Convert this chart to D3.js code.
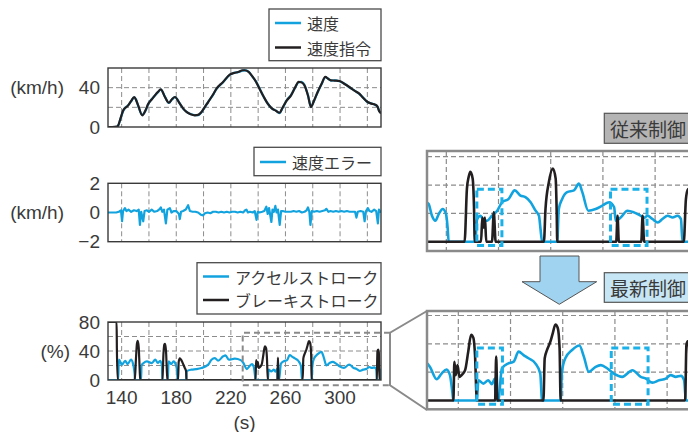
<!DOCTYPE html>
<html>
<head>
<meta charset="utf-8">
<script src="https://cdn.jsdelivr.net/npm/d3@7"></script>
<style>
  body { margin: 0; background: #fff; }
  text { fill: #3a3a3a; }
  .num { font-family: "Liberation Sans", Arial, sans-serif; font-size: 19px; }
  .jp { font-family: "Noto Sans CJK JP", sans-serif; font-size: 16px; }
</style>
</head>
<body>
<svg id="chart" width="688" height="432"></svg>
<script>
// speed command / speed (km/h)
const spdT = [130, 133, 136.5, 137.5, 139, 141.2, 144.8, 147, 149.2, 150.7, 152.1, 155.1, 157.5, 159.5, 162, 164.4, 166.5, 168.7, 171.7, 174.6, 177, 179, 182.6, 185, 187.5, 190.5, 193.6, 196, 198.5, 201, 203.4, 206.5, 209.5, 214.3, 219.2, 222.5, 225.3, 228.7, 230.2, 233, 235.5, 238.5, 241, 244, 247, 250, 253, 255.6, 258, 261, 264.1, 267, 269.7, 271.5, 273.9, 276.5, 278.7, 281, 283.6, 286.5, 289.2, 291.3, 293.3, 296, 299.5, 303, 306.8, 310.5, 314.1, 317, 320.2, 323, 325.8, 327.5, 328.7, 330];
const cmdV = [0, 0, 0.3, 1.7, 8, 17, 22, 26.5, 30.5, 27, 22, 11.9, 17, 23.7, 28, 32.2, 35.5, 38.3, 30.5, 24.7, 28.5, 30.5, 23.7, 19, 15.3, 13, 11.9, 12.3, 15.3, 20.5, 25.4, 32, 39, 45.8, 53.2, 55, 55.9, 57.7, 57.7, 56, 52, 45.8, 39, 31, 23.7, 19, 16.5, 14.5, 20, 27, 32.2, 40, 45.8, 45.5, 42.4, 32, 20.3, 27, 35.6, 44, 50.9, 49, 47.5, 47.2, 46.8, 44, 40.7, 37, 33.9, 29.5, 25.4, 23.8, 22.7, 20.5, 16, 14];
const actV = [0, 0, 0.2, 1.5, 7.5, 16.5, 22.3, 26.2, 30.2, 27.4, 21.6, 12.3, 16.6, 23.4, 28.3, 32, 35.2, 38, 30.9, 24.4, 28.2, 30.3, 24, 18.7, 15.5, 13.2, 12.1, 12.1, 15, 20.2, 25.6, 31.7, 38.7, 45.6, 52.9, 55.2, 55.7, 57.4, 57.5, 56.3, 51.7, 46.1, 39.3, 30.7, 23.9, 18.8, 16.7, 14.2, 19.6, 27.3, 32.5, 39.7, 45.5, 45.8, 42.7, 32.4, 20.6, 26.6, 35.3, 43.7, 50.6, 49.2, 47.2, 47.4, 46.5, 44.3, 40.4, 37.2, 33.6, 29.8, 25.1, 24, 22.4, 20.8, 16.3, 14.3];

// speed error (km/h)
const errT = [130, 132, 134, 136, 138, 139.5, 140.3, 141, 142.4, 143.5, 145, 147, 149, 151, 152.5, 153.4, 154.3, 155.8, 156.8, 158.5, 160, 162, 164, 166, 168, 168.7, 169.8, 171, 172.4, 173.5, 175.3, 176.5, 178, 180, 182, 182.6, 183.5, 185, 187, 188.7, 190, 192, 194, 196, 198, 199.7, 201, 203, 205, 207, 209, 211, 213, 215, 217, 219, 221, 223, 225, 227, 229, 230.5, 231.4, 232.5, 234, 236, 237.5, 238.8, 239.8, 241, 243, 244.5, 246, 247, 248, 249.7, 250.5, 251.5, 252.6, 253.5, 254.5, 255.8, 256.8, 258, 260, 262, 264, 266, 268, 270, 272, 274, 275.5, 276.5, 277.5, 278.3, 279.3, 281, 283, 285, 287, 289, 290, 291.5, 293, 295, 297, 299, 301, 303, 305, 307, 309, 311, 312, 313, 315, 317, 318, 319, 320.4, 321.5, 323, 325, 326.5, 327.7, 328.5, 329.5, 330];
const errV = [0, 0, 0, 0, 0.05, 0.15, -0.6, 0.1, 0.3, 0.1, 0.2, 0.05, 0.15, 0.1, 0.2, -0.85, 0.05, -0.6, 0.1, 0.15, 0.05, 0.2, 0.05, 0.1, 0.25, 0.35, 0.05, 0.2, -0.75, 0.2, 0.3, 0, 0.1, 0.1, -0.1, -0.45, 0.05, 0.1, 0.2, 0.5, 0.1, 0.05, 0.05, 0, -0.15, -0.2, -0.05, 0, -0.05, 0.05, 0.05, 0, 0.05, 0, 0.05, 0, 0.05, 0.05, 0, 0.05, 0, 0.15, 0.2, 0, 0.05, 0, 0.1, -0.5, 0.05, 0, 0.05, 0.1, 0.4, -0.1, 0.3, -0.65, 0.2, 0.05, 0.45, 0, 0.2, -0.85, 0.1, 0.1, 0.05, 0.05, 0.05, 0.1, 0.05, 0.1, 0, 0.05, 0.15, 0.35, 0.05, -0.85, 0.1, 0.05, 0.1, 0.05, 0.1, 0.15, 0.25, 0.05, 0.1, 0.05, 0.1, 0.05, 0.1, 0.05, 0.1, 0.05, 0.05, 0.05, -0.35, 0.05, 0.1, 0.05, -0.6, 0.1, 0.3, 0.1, 0.05, 0.2, 0.1, -0.75, 0.2, 0.05, 0.1];

// accelerator / brake stroke (%), latest control
const accT = [130, 137.4, 138, 140.2, 142.6, 144.4, 146.8, 148.5, 149.5, 149.8, 154.2, 154.6, 156.1, 158.5, 162.1, 164.6, 166.5, 168.2, 169.5, 169.9, 173.8, 174.4, 176.3, 178, 179.7, 180.6, 180.9, 187.4, 187.6, 191.2, 194.5, 198.5, 203.4, 205.8, 208.3, 210.7, 214.4, 216.1, 218.5, 222.9, 227.2, 229.1, 231.7, 233.6, 235.5, 236.8, 237.7, 238.1, 247.1, 247.7, 249.6, 251.5, 252.8, 254, 254.3, 255.3, 256.7, 259.2, 261.2, 263.1, 265, 266.9, 269.5, 271.4, 272.1, 279.2, 279.7, 281, 283.6, 286.4, 288.1, 290, 292.6, 294.6, 297.1, 299.6, 302.8, 306.7, 309.9, 311.8, 314.4, 316.9, 319.5, 321.4, 323.3, 325.3, 326.5, 327.2, 329.2, 329.6, 330];
const accV = [0, 0, 28, 21, 26.5, 22, 28, 21, 8, 0, 0, 20, 23.4, 25.7, 23.4, 28, 23.5, 26.5, 20, 0, 0, 25.7, 22, 25.7, 21, 12, 0, 0, 12, 14.3, 15, 16.6, 21.2, 28, 30.3, 26.7, 32.7, 34, 28, 29.4, 27.4, 23.8, 15, 19, 21.9, 17.9, 6, 0, 0, 14.3, 11.9, 14.3, 11.5, 15.5, 0, 0, 22.6, 26.2, 27.4, 34.5, 32, 29.8, 26.2, 19, 0, 0, 20.2, 29.8, 35.7, 38.8, 31, 20.2, 23.8, 25, 22.6, 19, 16.7, 21.4, 16.7, 15.5, 12.6, 14.3, 15.5, 17.9, 16.7, 17.4, 14.3, 0, 0, 14, 15];
const brkT = [130, 136.3, 136.5, 137.1, 149.6, 150.5, 151.2, 151.8, 152.5, 153.2, 153.6, 169.9, 170.6, 171.3, 171.8, 172.5, 173.2, 173.6, 181.3, 181.8, 182.6, 183.8, 185.3, 186.3, 187.2, 187.5, 238.1, 238.5, 239, 239.7, 240.4, 241.3, 242.6, 243.8, 244.9, 245.8, 246.4, 247.1, 254.1, 254.5, 255, 272.6, 273.1, 274, 275.3, 276.2, 277.2, 278.1, 278.8, 279.2, 326.9, 327.4, 327.9, 328.4, 328.9, 330];
const brkV = [80, 80, 44, 0, 0, 30, 50, 54, 45, 15, 0, 0, 35, 49, 50, 40, 10, 0, 0, 25, 30, 27, 21, 16.5, 12, 0, 0, 27.4, 17.9, 25, 16.7, 18, 21.4, 34.5, 46.4, 44, 32, 0, 0, 31, 0, 0, 29.8, 35.7, 41.7, 47.6, 53.6, 51.2, 36.9, 0, 0, 39.3, 41.8, 38, 0, 0];

// accelerator / brake stroke (%), conventional control
const oldAccT = [232, 233.2, 234.5, 235.8, 237.1, 238.6, 239.9, 240.5, 240.9, 251.1, 251.8, 253.1, 254.3, 255.6, 257.5, 259.5, 261.4, 263.9, 266.2, 268.4, 270.3, 272.3, 274.2, 275.5, 276.1, 276.7, 282.5, 283.1, 284.4, 286.3, 288.9, 290.8, 292.1, 294.4, 297.2, 299.8, 302.4, 304.3, 304.9, 306.8, 309.4, 311.9, 314.5, 315.8, 317.1, 319, 321, 322.8, 324.8, 326.7, 328.6, 329.9, 330.5, 334];
const oldAccV = [28, 26.7, 18.3, 14.8, 19.5, 23.1, 19.5, 10, 0, 0, 16, 18.3, 15, 14.8, 18.3, 21.9, 27.9, 30.2, 36.2, 32.6, 31.4, 27.9, 21.9, 18.3, 8.8, 0, 0, 23.1, 30.2, 35, 36.2, 41, 35, 21.9, 23.1, 25.5, 27.9, 24.3, 14.8, 17.1, 21.9, 20.7, 18.3, 17, 18.3, 16, 13.6, 16, 18.3, 17.1, 18.3, 16, 0, 0];
const oldBrkT = [232, 247, 247.9, 248.6, 249.2, 250.1, 250.6, 250.9, 253.3, 253.8, 254.3, 254.8, 255.3, 257.5, 258.2, 258.9, 277.4, 278, 279.3, 280.8, 281.9, 282.3, 282.5, 305.1, 305.6, 306.1, 314.7, 315.2, 315.8, 331, 331.8, 332.6, 334];
const oldBrkV = [0, 0, 37.4, 46, 49.3, 44.5, 25, 0, 0, 17, 10, 17, 0, 0, 20.7, 0, 0, 23.1, 42.1, 51.7, 44.5, 20, 0, 0, 18.3, 0, 0, 18.3, 0, 0, 30, 37, 38];

// highlighted intervals (time range) in the zoomed views
const oldMarks = [[251.7, 261.3], [302.9, 316.9]];
const newMarks = [[247.1, 256.9], [298.6, 312.7]];

const cyan = "#12a3df", black = "#231f20", grid = "#8c8c8c";
const svg = d3.select("#chart");
const x = d3.scaleLinear().domain([130, 330]).range([108, 381]);
const gridTicks = d3.range(140, 330, 20);

function zip(t, v) { return t.map((d, i) => [d, v[i]]); }

function drawLine(g, xs, ys, data, color, w, smooth) {
  g.append("path").datum(data)
    .attr("fill", "none").attr("stroke", color).attr("stroke-width", w)
    .attr("stroke-linejoin", "round")
    .attr("d", d3.line().curve(smooth ? d3.curveMonotoneX : d3.curveLinear)
      .x(d => xs(d[0])).y(d => ys(d[1])));
}

let clipId = 0;
function clipped(x0, y0, w, h) {
  const id = "clip" + (clipId++);
  svg.append("clipPath").attr("id", id).append("rect")
    .attr("x", x0).attr("y", y0).attr("width", w).attr("height", h);
  return svg.append("g").attr("clip-path", `url(#${id})`);
}

function mainPanel(top, bottom, domain, hGrid, ticks, unit, unitX) {
  const y = d3.scaleLinear().domain(domain).range([bottom, top]);
  const g = svg.append("g");
  g.selectAll(".vg").data(gridTicks).enter().append("line")
    .attr("x1", d => x(d)).attr("x2", d => x(d)).attr("y1", top).attr("y2", bottom)
    .attr("stroke", grid).attr("stroke-dasharray", "5,3");
  g.selectAll(".hg").data(hGrid).enter().append("line")
    .attr("x1", 108).attr("x2", 381).attr("y1", d => y(d)).attr("y2", d => y(d))
    .attr("stroke", grid).attr("stroke-dasharray", "5,3");
  g.selectAll(".tk").data(ticks).enter().append("text").attr("class", "num")
    .attr("x", 100).attr("y", d => y(d)).attr("text-anchor", "end")
    .attr("dominant-baseline", "central")
    .text(d => d < 0 ? "\u2212" + Math.abs(d) : d);
  g.append("text").attr("class", "num").attr("x", unitX).attr("y", y(unit[1]))
    .attr("text-anchor", "end").attr("dominant-baseline", "central").text(unit[0]);
  return { y, lines: clipped(108, top, 273, bottom - top), top, bottom };
}

function frame(top, bottom) {
  svg.append("rect").attr("x", 108).attr("y", top).attr("width", 273).attr("height", bottom - top)
    .attr("fill", "none").attr("stroke", "#3a3a3a").attr("stroke-width", 1.4);
}

function legend(x0, y0, x1, y1, items) {
  const g = svg.append("g");
  g.append("rect").attr("x", x0).attr("y", y0).attr("width", x1 - x0).attr("height", y1 - y0)
    .attr("fill", "#fff").attr("stroke", "#4a4a4a").attr("stroke-width", 1.3);
  items.forEach((it, i) => {
    const cy = it[2];
    g.append("line").attr("x1", x0 + 6).attr("x2", x0 + 32).attr("y1", cy).attr("y2", cy)
      .attr("stroke", it[1]).attr("stroke-width", 2.5);
    g.append("text").attr("class", "jp").attr("x", x0 + 38).attr("y", cy)
      .attr("dominant-baseline", "central").text(it[0]);
  });
}

// panel 1: speed
const p1 = mainPanel(68, 127, [0, 60], [20, 40], [0, 40], ["(km/h)", 40], 64);
drawLine(p1.lines, x, p1.y, zip(spdT, actV), cyan, 2.2, true);
drawLine(p1.lines, x, p1.y, zip(spdT, cmdV), black, 2.2, true);
frame(68, 127);
legend(269, 9, 381, 60.7, [["速度", cyan, 23], ["速度指令", black, 47.5]]);

// panel 2: speed error
const p2 = mainPanel(183.3, 241.7, [-2, 2], [], [-2, 0, 2], ["(km/h)", 0], 64);
drawLine(p2.lines, x, p2.y, zip(errT, errV), cyan, 2.2, false);
frame(183.3, 241.7);
legend(254, 147.3, 381, 175.7, [["速度エラー", cyan, 162]]);

// panel 3: pedal strokes
const p3 = mainPanel(322, 380, [0, 80], [20, 40, 60], [0, 40, 80], ["(%)", 40], 70);
drawLine(p3.lines, x, p3.y, zip(accT, accV), cyan, 2.2, true);
drawLine(p3.lines, x, p3.y, zip(brkT, brkV), black, 2.2, true);
frame(322, 380);
legend(197, 262.7, 381, 314, [["アクセルストローク", cyan, 276.5], ["ブレーキストローク", black, 300]]);

// time axis labels
svg.selectAll(".xt").data(d3.range(140, 330, 40)).enter().append("text").attr("class", "num")
  .attr("x", d => x(d)).attr("y", 397).attr("text-anchor", "middle")
  .attr("dominant-baseline", "central").text(d => d);
svg.append("text").attr("class", "num").attr("x", x(230)).attr("y", 422)
  .attr("text-anchor", "middle").attr("dominant-baseline", "central").text("(s)");

// zoom marker and connector
svg.append("path").attr("d", "M390,332.7 H242.7 V385.3 H390")
  .attr("fill", "none").attr("stroke", "#8a8a8a").attr("stroke-width", 2).attr("stroke-dasharray", "6,4");
svg.append("path").attr("d", "M427,311 L390,332.7 V385.3 L427,410")
  .attr("fill", "none").attr("stroke", "#8a8a8a").attr("stroke-width", 2);

// zoomed panels
function zoomPanel(top, bottom, base, domainX, acc, brk, marks) {
  const xs = d3.scaleLinear().domain(domainX).range([427, 688]);
  const ys = d3.scaleLinear().domain([0, 60]).range([base, base - 85]);
  const g = svg.append("g");
  g.append("rect").attr("x", 427).attr("y", top).attr("width", 280).attr("height", bottom - top)
    .attr("fill", "#fff");
  g.selectAll(".vg").data(d3.range(240, 330, 20)).enter().append("line")
    .attr("x1", d => xs(d)).attr("x2", d => xs(d)).attr("y1", top).attr("y2", bottom)
    .attr("stroke", grid).attr("stroke-width", 1.2).attr("stroke-dasharray", "5,3");
  g.selectAll(".hg").data([20, 40, 60]).enter().append("line")
    .attr("x1", 427).attr("x2", 700).attr("y1", d => ys(d)).attr("y2", d => ys(d))
    .attr("stroke", grid).attr("stroke-width", 1.2).attr("stroke-dasharray", "5,3");
  const lg = clipped(427, top, 280, bottom - top);
  drawLine(lg, xs, ys, acc, cyan, 2.6, true);
  drawLine(lg, xs, ys, brk, black, 2.6, true);
  svg.append("rect").attr("x", 427).attr("y", top).attr("width", 280).attr("height", bottom - top)
    .attr("fill", "none").attr("stroke", "#8a8a8a").attr("stroke-width", 2.5);
  svg.selectAll(null).data(marks).enter().append("rect")
    .attr("x", d => xs(d[0])).attr("width", d => xs(d[1]) - xs(d[0]))
    .attr("y", ys(37)).attr("height", ys(-2.6) - ys(37))
    .attr("fill", "none").attr("stroke", "#1ab0e8").attr("stroke-width", 3)
    .attr("stroke-dasharray", "7,4");
}

zoomPanel(151, 251, 241.7, [232.6, 332.6], zip(oldAccT, oldAccV), zip(oldBrkT, oldBrkV), oldMarks);
zoomPanel(311, 409.3, 400.5, [228, 328], zip(accT, accV), zip(brkT, brkV), newMarks);

// labels for the two controls
function tag(y0, y1, fill, label) {
  svg.append("rect").attr("x", 604.3).attr("y", y0).attr("width", 90).attr("height", y1 - y0)
    .attr("fill", fill).attr("stroke", "#555").attr("stroke-width", 1.2);
  svg.append("text").attr("class", "jp").style("font-size", "19px")
    .attr("x", 610).attr("y", (y0 + y1) / 2).attr("dominant-baseline", "central").text(label);
}
tag(113.3, 143.3, "#b4b4b4", "従来制御");
tag(272.7, 302.3, "#c6e6f6", "最新制御");

// arrow
svg.append("polygon")
  .attr("points", "540,256 579,256 579,281.7 596.7,281.7 559.3,304.3 522,281.7 540,281.7")
  .attr("fill", "#9fd3ef").attr("stroke", "#555").attr("stroke-width", 1);
</script>
</body>
</html>
